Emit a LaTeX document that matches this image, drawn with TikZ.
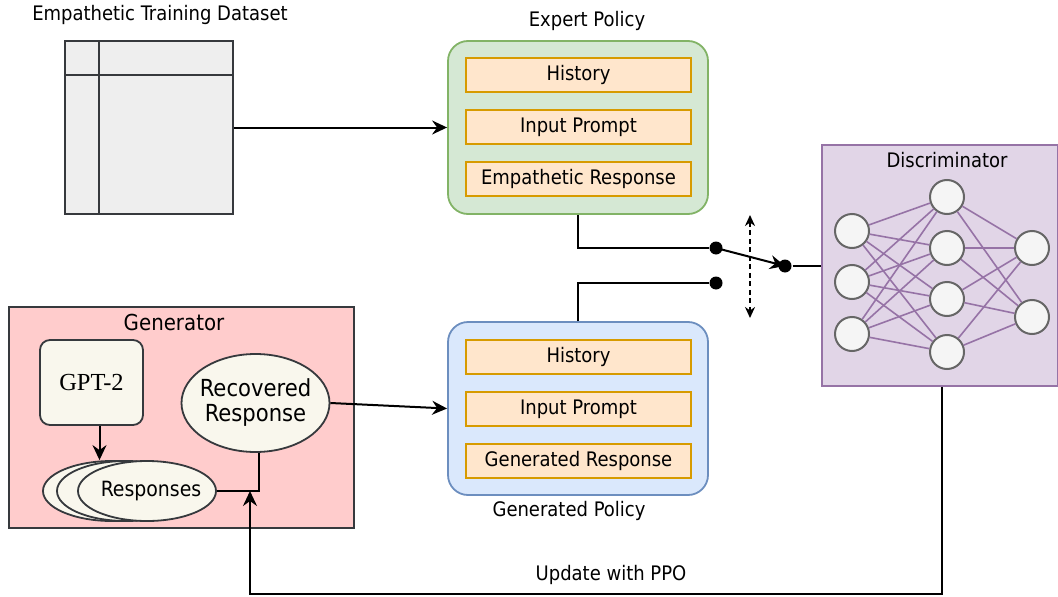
\documentclass[tikz,border=0pt]{standalone}
\usepackage{fontspec}
\setmainfont{DejaVu Sans Condensed}
\newfontfamily\gptfont{Liberation Serif}
\usetikzlibrary{arrows.meta,shapes.geometric}
\definecolor{greenF}{HTML}{D5E8D4}\definecolor{greenS}{HTML}{82B366}
\definecolor{blueF}{HTML}{DAE8FC}\definecolor{blueS}{HTML}{6C8EBF}
\definecolor{orangeF}{HTML}{FFE6CC}\definecolor{orangeS}{HTML}{D79B00}
\definecolor{purpF}{HTML}{E1D5E7}\definecolor{purpS}{HTML}{9673A6}
\definecolor{redF}{HTML}{FFCCCC}\definecolor{darkS}{HTML}{36393D}
\definecolor{creamF}{HTML}{F9F7ED}\definecolor{tblF}{HTML}{EEEEEE}
\definecolor{neuF}{HTML}{F5F5F5}\definecolor{neuS}{HTML}{666666}
\tikzset{
  base/.style={font=\fontsize{20}{24}\selectfont},
  arr/.style={-{Stealth[length=15pt,width=14pt,inset=5pt]}},
  inner/.style={draw=orangeS, fill=orangeF, line width=2pt, minimum width=225pt, minimum height=34pt, inner sep=0pt, base},
  policy/.style={rounded corners=20pt, line width=1.8pt, minimum width=260pt, minimum height=173pt},
  neuron/.style={circle, draw=neuS, fill=neuF, line width=2pt, minimum size=34pt, inner sep=0pt},
  syn/.style={draw=purpS, line width=1.6pt},
  dot/.style={circle, fill=black, minimum size=13pt, inner sep=0pt},
  resp/.style={ellipse, draw=darkS, fill=creamF, line width=1.8pt, minimum width=138pt, minimum height=60pt, inner sep=0pt},
}
\begin{document}
\begin{tikzpicture}[x=1pt,y=-1pt,line width=2pt]
\useasboundingbox (0,0) rectangle (1058,597);
% dataset
\node[base] (tdata) at (160,15) {Empathetic Training Dataset};
\node[draw=darkS, fill=tblF, line width=2pt, minimum width=168pt, minimum height=173pt] (data) at (149,127.5) {};
\draw[darkS] ([xshift=35pt]data.north west) -- ([xshift=35pt]data.south west);
\draw[darkS] ([yshift=-35pt]data.north west) -- ([yshift=-35pt]data.north east);
% expert policy
\node[base] (texp) at (587,21) {Expert Policy};
\node[policy, draw=greenS, fill=greenF] (expert) at (578,127.5) {};
\node[inner] (eh) at (578.5,75) {History};
\node[inner] (ei) at (578.5,127) {Input Prompt};
\node[inner] (ee) at (578.5,179) {Empathetic Response};
% generated policy
\node[policy, draw=blueS, fill=blueF] (gen) at (578,408.5) {};
\node[inner] (gh) at (578.5,357) {History};
\node[inner] (gi) at (578.5,409) {Input Prompt};
\node[inner] (gr) at (578.5,460.5) {Generated Response};
\node[base] (tgen) at (569,511) {Generated Policy};
% discriminator
\node[draw=purpS, fill=purpF, line width=1.8pt, minimum width=236pt, minimum height=241pt] (disc) at (940,265.5) {};
\node[base] (tdisc) at (947,160) {Discriminator};
\node[neuron] (a1) at (852,231) {};
\node[neuron] (a2) at (852,282) {};
\node[neuron] (a3) at (852,334) {};
\node[neuron] (b1) at (947,197) {};
\node[neuron] (b2) at (947,248) {};
\node[neuron] (b3) at (947,299) {};
\node[neuron] (b4) at (947,352) {};
\node[neuron] (c1) at (1032,248) {};
\node[neuron] (c2) at (1032,317) {};
\foreach \a in {a1,a2,a3}{\foreach \b in {b1,b2,b3,b4}{\draw[syn] (\a) -- (\b);}}
\foreach \b in {b1,b2,b3,b4}{\foreach \c in {c1,c2}{\draw[syn] (\b) -- (\c);}}
% generator
\node[draw=darkS, fill=redF, line width=1.8pt, minimum width=345pt, minimum height=221pt] (genr) at (181.5,417.5) {};
\node[font=\fontsize{22}{26}\selectfont] (tgenr) at (174,322) {Generator};
\node[draw=darkS, fill=creamF, rounded corners=10pt, line width=1.8pt, minimum width=103pt, minimum height=85pt, font=\gptfont\fontsize{24.5}{27}\selectfont] (gpt) at (91.5,382.5) {GPT-2};
\node[resp] (r3) at (112,491) {};
\node[resp] (r2) at (126,491) {};
\node[resp, label={[font=\fontsize{21}{24}\selectfont, xshift=4pt]center:Responses}] (resp) at (147,491) {};
\node[ellipse, draw=darkS, fill=creamF, line width=1.8pt, minimum width=148pt, minimum height=98pt, inner sep=0pt, label={[align=center, font=\fontsize{23.5}{25}\selectfont]center:Recovered\\Response}] (rec) at (255.5,403) {};
% connectors
\draw[arr] (data.east) -- (expert.west);
\draw[arr] ([xshift=8pt]gpt.south) -- ([xshift=8pt]gpt.south |- r3.north);
\coordinate (j) at (259,491);
\draw (resp.east) -- (j) -- (j |- rec.south);
\draw[arr] (rec.east) -- (gen.west);
\node[dot] (d1) at (716,248) {};
\node[dot] (d2) at (716,283) {};
\node[dot] (d3) at (785,266) {};
\draw (expert.south) |- (d1);
\draw (gen.north) |- (d2);
\draw[arr] (d1.center) -- (d3.center);
\draw (d3) -- (disc.west |- d3);
\coordinate (s1) at (750,215);
\coordinate (s2) at (750,318);
\draw[line width=1.8pt, dash pattern=on 5pt off 3.5pt, {Stealth[length=11pt,width=10pt,inset=3.5pt]}-{Stealth[length=11pt,width=10pt,inset=3.5pt]}] (s1) -- (s2);
\coordinate (pb) at (250,594);
\coordinate (pj) at (250,491);
\draw[arr] ([xshift=2pt]disc.south) |- (pb) -- (pj);
\node[base] (tppo) at (611,575) {Update with PPO};
\end{tikzpicture}
\end{document}
